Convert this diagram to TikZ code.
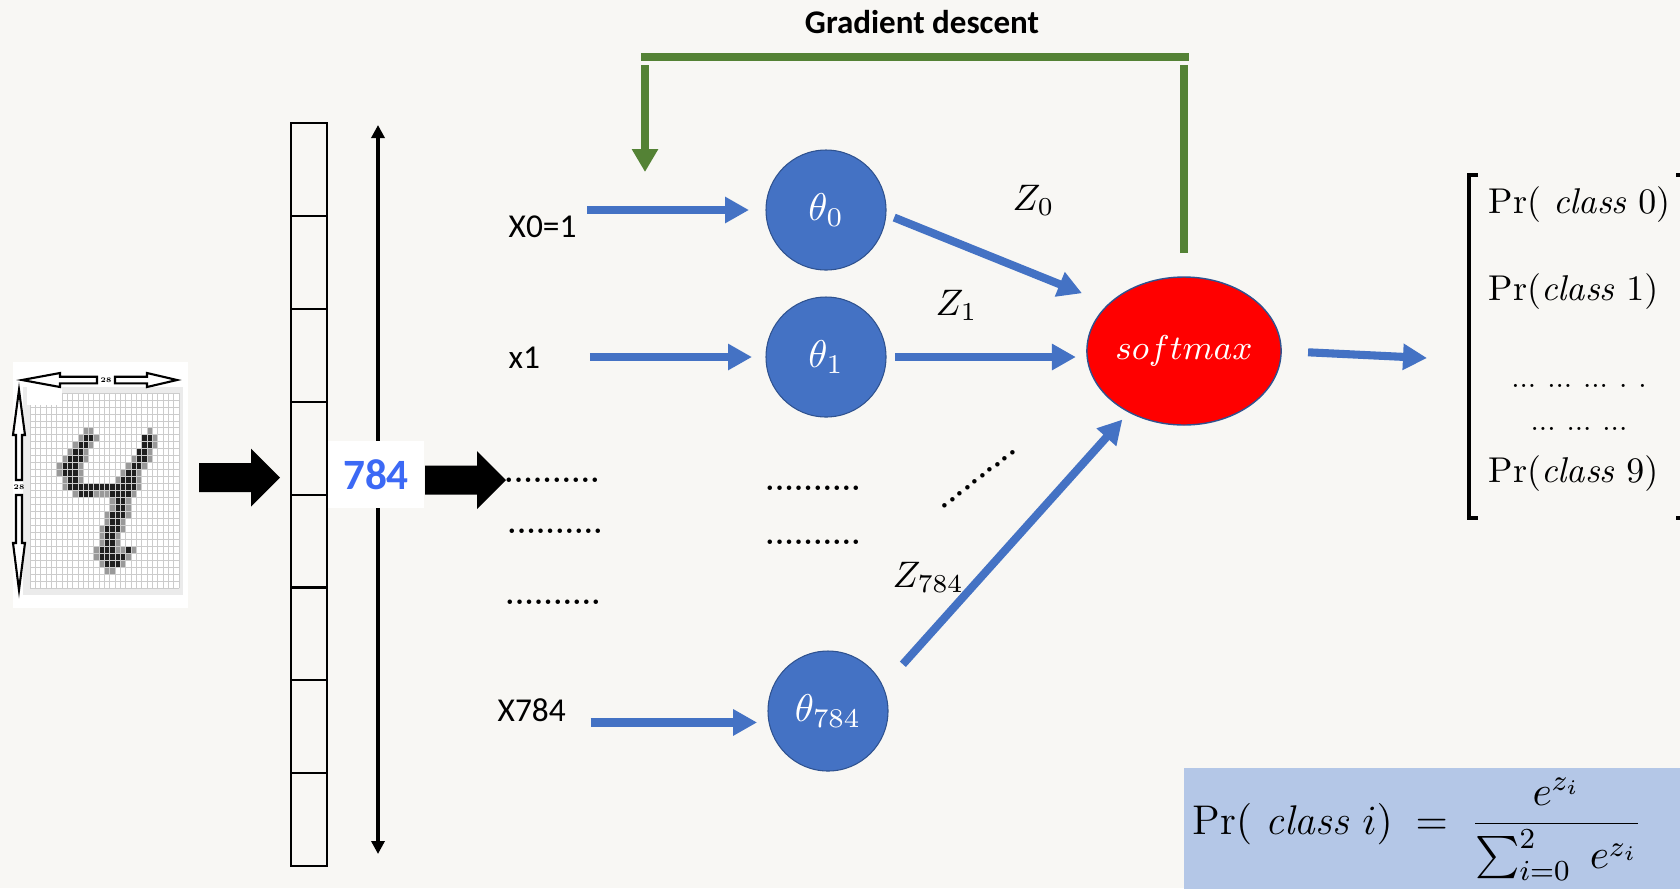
\RequirePackage{fix-cm}
\documentclass[tikz,border=0pt]{standalone}
\usepackage{amsmath}
\usepackage{fontspec}
\usepackage{tikz}
\usetikzlibrary{arrows.meta,shapes.geometric}
\newfontfamily\calibri{Carlito}
\definecolor{fond}{RGB}{248,247,244}
\definecolor{bleu}{RGB}{68,114,196}
\definecolor{bordbleu}{RGB}{47,82,143}
\definecolor{vert}{RGB}{84,130,53}
\definecolor{bleuclair}{RGB}{180,199,231}
\definecolor{bleuvif}{RGB}{60,105,245}

\begin{document}
\begin{tikzpicture}[x=1cm,y=-1cm,
	neurone/.style={circle,fill=bleu,draw=bordbleu,line width=0.3pt,minimum size=1.2cm,inner sep=0pt,outer sep=0pt,text=white,font=\fontsize{11}{13}\selectfont},
	fleche/.style={draw=bleu,line width=2.3pt,-{Triangle[length=0.24cm,width=0.25cm]}},
	retour/.style={draw=vert,line width=2.1pt},
	entree/.style={inner sep=0pt,font=\calibri\fontsize{9.5}{11}\selectfont},
	pointille/.style={inner sep=0pt,font=\bfseries\fontsize{8}{9}\selectfont},
	etiquette/.style={anchor=base west,inner sep=0pt,font=\fontsize{10.5}{12}\selectfont},
	proba/.style={anchor=base west,inner sep=0pt,font=\fontsize{10.2}{12}\selectfont},
	creuse/.style={fill=white,draw=black,line width=0.6pt},
	grille/.style={draw=black!20,line width=0.2pt}]
	%
	% Cadre
	\def\largeur{16.8}
	\def\hauteur{8.88}
	\useasboundingbox (0,0) rectangle (\largeur,\hauteur);
	\clip (0,0) rectangle (\largeur,\hauteur);
	\fill[fond] (0,0) rectangle (\largeur,\hauteur);
	%
	% Image 28x28
	\fill[white] (0.13,3.62) rectangle (1.88,6.08);
	\fill[black!8] (0.23,3.87) rectangle (1.83,5.95);
	\fill[white] (0.30,3.93) rectangle (1.79,5.88);
	\foreach \l/\cs in {5/{10,11,22},6/{9,12,23},7/{8,11,23},8/{7,10,22},9/{6,10,19,22},10/{5,9,18,21},11/{5,9,17,20},12/{6,9,16,20},13/{6,20},14/{8,12,13,14,19},15/{15,18},16/{15,18},17/{14,18},18/{14,17},19/{13,17},20/{13,16},21/{13,16},22/{12,16,17,19},23/{12,18},24/{13,17},25/{14,15}}
		\foreach \c in \cs
			\fill[black!40] ({0.30+0.0532*\c},{3.93+0.0696*\l}) rectangle ++(0.0532,0.0696);
	\foreach \l/\cs in {6/{10,11,21,22},7/{9,10,21,22},8/{8,9,20,21},9/{7,8,9,20,21},10/{6,7,8,19,20},11/{6,7,8,18,19},12/{7,8,17,18,19},13/{7,...,19},14/{9,10,11,15,16,17,18},15/{16,17},16/{16,17},17/{15,16,17},18/{15,16},19/{14,15,16},20/{14,15},21/{14,15},22/{13,14,15,18},23/{13,14,15,16,17},24/{14,15,16}}
		\foreach \c in \cs
			\fill[black!88] ({0.30+0.0532*\c},{3.93+0.0696*\l}) rectangle ++(0.0532,0.0696);
	\foreach \i in {0,...,28} {
		\draw[grille] ({0.30+0.0532*\i},3.93) -- ++(0,1.95);
		\draw[grille] (0.30,{3.93+0.0696*\i}) -- ++(1.49,0);
	}
	\fill[white] (0.27,3.87) rectangle (0.62,4.05);
	% Fleches 28
	\filldraw[creuse] (0.22,3.80) -- (0.60,3.73) -- (0.60,3.767) -- (0.97,3.767) -- (0.97,3.833) -- (0.60,3.833) -- (0.60,3.87) -- cycle;
	\filldraw[creuse] (1.77,3.80) -- (1.47,3.73) -- (1.47,3.767) -- (1.15,3.767) -- (1.15,3.833) -- (1.47,3.833) -- (1.47,3.87) -- cycle;
	\filldraw[creuse] (0.19,3.90) -- (0.13,4.35) -- (0.16,4.35) -- (0.16,4.80) -- (0.22,4.80) -- (0.22,4.35) -- (0.25,4.35) -- cycle;
	\filldraw[creuse] (0.19,5.90) -- (0.13,5.43) -- (0.16,5.43) -- (0.16,4.95) -- (0.22,4.95) -- (0.22,5.43) -- (0.25,5.43) -- cycle;
	\node[inner sep=0pt,font=\bfseries\fontsize{2}{2}\selectfont] (n28a) at (1.06,3.80) {28};
	\node[inner sep=0pt,font=\bfseries\fontsize{2}{2}\selectfont] (n28b) at (0.19,4.87) {28};
	%
	% Grosses fleches
	\foreach \x/\y in {1.99/4.775,4.25/4.80}
		\fill[black,shift={(\x,\y)}] (0,-0.145) -- (0.52,-0.145) -- (0.52,-0.29) -- (0.81,0) -- (0.52,0.29) -- (0.52,0.145) -- (0,0.145) -- cycle;
	%
	% Vecteur 784
	\foreach \i in {0,...,7}
		\draw[line width=0.6pt] (2.91,{1.23+0.929*\i}) rectangle ++(0.36,0.929);
	\coordinate (haut) at (3.78,1.25);
	\coordinate (bas) at (3.78,8.54);
	\draw[line width=1.1pt,{Triangle[length=0.13cm,width=0.13cm]}-{Triangle[length=0.13cm,width=0.13cm]}] (haut) -- (bas);
	\node[fill=white,minimum width=0.96cm,minimum height=0.67cm,inner sep=0pt,text=bleuvif,font=\calibri\bfseries\fontsize{12.3}{14}\selectfont] (taille) at (3.76,4.745) {784};
	%
	% Entrees
	\node[entree,anchor=base west] (x0) at (5.08,2.37) {X0=1};
	\node[entree,anchor=base west] (x1) at (5.08,3.68) {x1};
	\node[entree,anchor=base west] (x784) at (4.97,7.21) {X784};
	\node[pointille,anchor=base] (pe1) at (5.52,4.82) {..........};
	\node[pointille,anchor=base] (pe2) at (5.55,5.33) {..........};
	\node[pointille,anchor=base] (pe3) at (5.53,6.04) {..........};
	%
	% Neurones
	\node[neurone] (t0) at (8.26,2.10) {$\theta_0$};
	\node[neurone] (t1) at (8.26,3.57) {$\theta_1$};
	\node[neurone] (t784) at (8.28,7.11) {$\theta_{784}$};
	\node[pointille,anchor=base] (pm1) at (8.13,4.90) {..........};
	\node[pointille,anchor=base] (pm2) at (8.13,5.44) {..........};
	\node[ellipse,fill=red,draw=bordbleu,line width=0.4pt,minimum width=1.71cm,minimum height=1.48cm,inner sep=0pt,outer sep=0pt,text=white,font=\fontsize{9.8}{11}\selectfont] (sm) at (11.84,3.51) {$softmax$};
	\node[pointille,rotate=38] (pd) at (9.79,4.79) {..........};
	%
	% Liaisons
	\draw[fleche,shorten <=0.1cm,shorten >=0.17cm] (x0.east |- t0) -- (t0);
	\draw[fleche,shorten <=0.49cm,shorten >=0.14cm] (x1.east |- t1) -- (t1);
	\draw[fleche,shorten <=0.24cm,shorten >=0.12cm] (x784.east |- t784.191) -- (t784.191);
	\draw[fleche,shorten <=0.09cm,shorten >=0.29cm] (t0.356) -- (sm.148);
	\draw[fleche,shorten <=0.09cm,shorten >=0.11cm] (t1.east) -- (t1.east -| sm.west);
	\draw[fleche,shorten <=0.30cm,shorten >=0.10cm] (t784.24) -- (sm.228);
	\node[etiquette] (z0) at (10.12,2.10) {$Z_0$};
	\node[etiquette] (z1) at (9.35,3.15) {$Z_1$};
	\node[etiquette] (z784) at (8.92,5.87) {$Z_{784}$};
	%
	% Descente de gradient
	\node[anchor=base,font=\calibri\bfseries\fontsize{9.4}{11}\selectfont] (gd) at (9.22,0.33) {Gradient descent};
	\coordinate (retourg) at (6.41,0.57);
	\coordinate (retourd) at (11.89,0.57);
	\coordinate (montee) at (11.85,0.65);
	\coordinate (depart) at (6.45,0.65);
	\coordinate (arrivee) at (6.45,1.72);
	\draw[retour] (retourg) -- (retourd);
	\draw[retour,shorten <=0.24cm] (sm.north) -- (sm.north |- montee);
	\draw[retour,-{Triangle[length=0.23cm,width=0.25cm]}] (depart) -- (arrivee);
	%
	% Sortie
	\coordinate (sortie) at (14.27,3.58);
	\draw[fleche,shorten <=0.27cm] (sm.east) -- (sortie);
	\draw[line width=0.9pt] (14.78,1.75) -- (14.69,1.75) -- (14.69,5.18) -- (14.78,5.18);
	\draw[line width=0.9pt] (16.76,1.75) -- (16.83,1.75) -- (16.83,5.18) -- (16.76,5.18);
	\node[proba] (p0) at (14.88,2.13) {$\Pr(\ \mathit{class}\ 0)$};
	\node[proba] (p1) at (14.88,3.00) {$\Pr(\mathit{class}\ 1)$};
	\node[inner sep=0pt,anchor=base,font=\fontsize{8}{9}\selectfont] (pp1) at (15.79,3.87) {...\hspace{1.1mm}...\hspace{1.1mm}...\hspace{1.1mm}.\hspace{1.1mm}.};
	\node[inner sep=0pt,anchor=base,font=\fontsize{8}{9}\selectfont] (pp2) at (15.79,4.30) {...\hspace{1.1mm}...\hspace{1.1mm}...};
	\node[proba] (p9) at (14.88,4.82) {$\Pr(\mathit{class}\ 9)$};
	%
	% Formule
	\fill[bleuclair] (11.84,7.68) rectangle (16.9,9.0);
	\node[anchor=base west,inner sep=0pt,font=\fontsize{11.8}{14}\selectfont] (loi) at (11.92,8.34) {$\Pr(\ \mathit{class}\ i) \;=\; \dfrac{e^{z_i}}{\sum_{i=0}^{2}\; e^{z_i}}$};
\end{tikzpicture}
\end{document}
